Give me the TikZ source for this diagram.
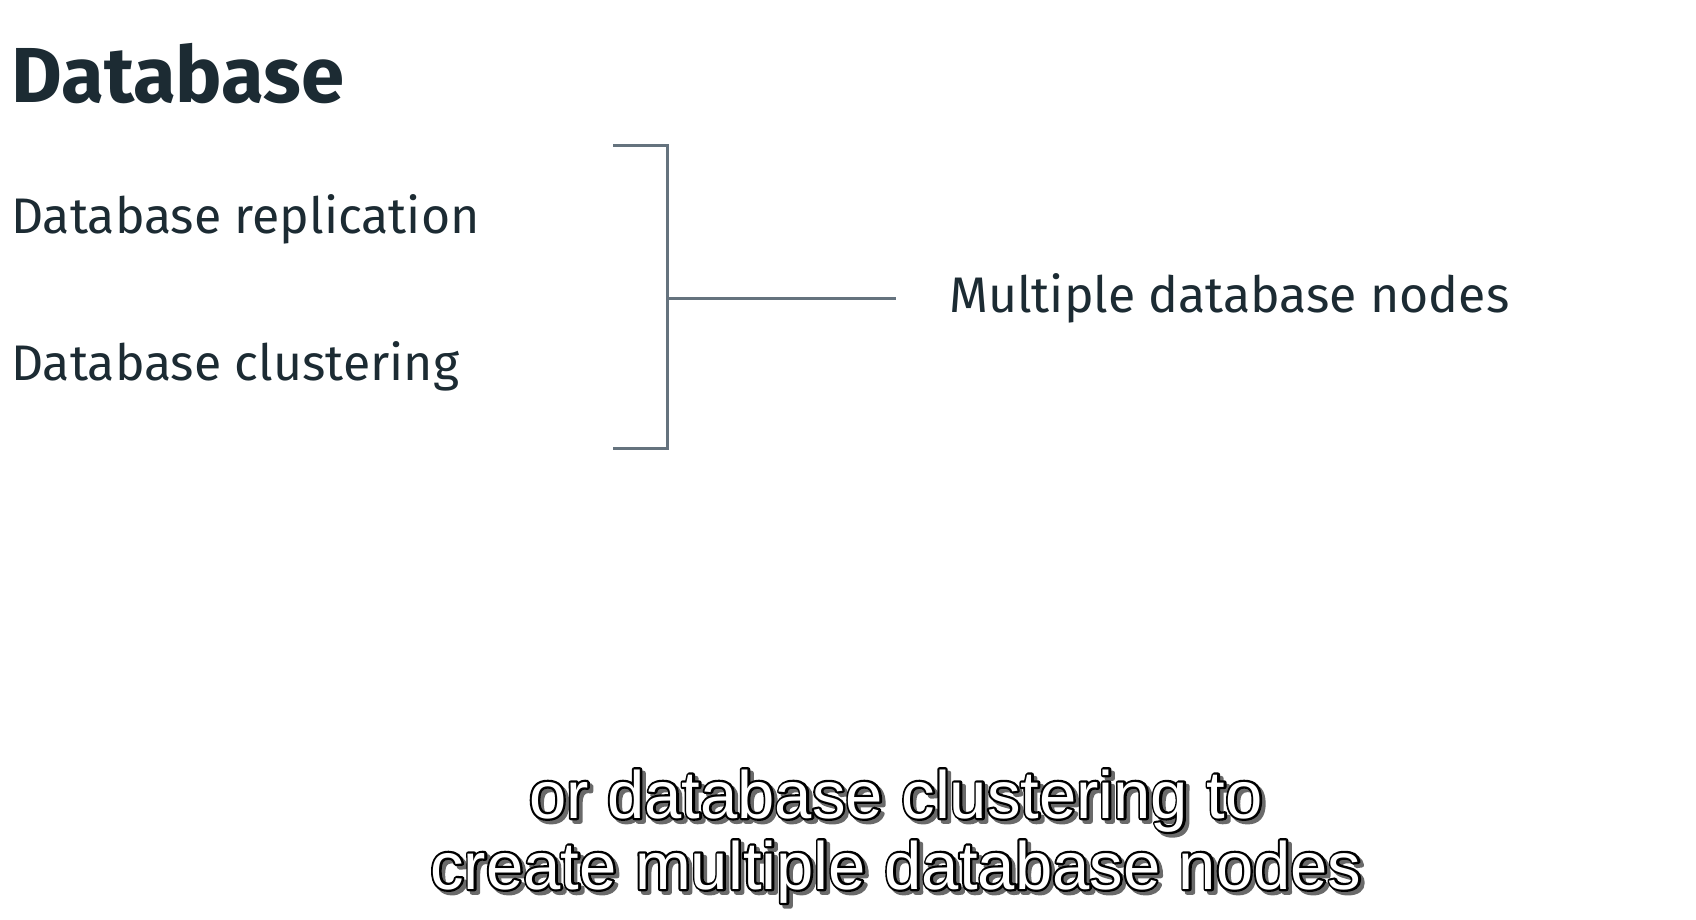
\documentclass[tikz,border=0pt]{standalone}
\usepackage{fontspec}
\setmainfont{Fira Sans}
\newfontfamily\subfont{Liberation Sans}
\usetikzlibrary{calc}
\definecolor{inkdark}{HTML}{1C2B33}
\definecolor{brack}{HTML}{65737E}
\definecolor{shade}{HTML}{6A6A6A}
\newcommand{\outlinedtext}[1]{%
  \rlap{\kern3.5pt\raisebox{-3.5pt}{\color{shade}\special{pdf:literal direct 1 j 2 Tr 4.5 w}#1}}%
  \rlap{\color{black}\special{pdf:literal direct 1 j 2 Tr 4.5 w 0 G}#1}%
  \special{pdf:literal direct 0 Tr}%
  {\color{white}#1}}
\tikzset{
  item/.style={anchor=base west, inner sep=0pt, text=inkdark, font=\fontsize{50}{60}\selectfont},
  ttl/.style={anchor=base west, inner sep=0pt, text=inkdark, font=\fontsize{78}{90}\selectfont\bfseries},
  bline/.style={draw=brack, line width=3pt},
  subbase/.style={anchor=base, inner sep=0pt, font=\fontsize{67}{70}\subfont},
}
\begin{document}
\begin{tikzpicture}[x=1pt,y=-1pt]
  \fill[white] (0,0) rectangle (1696,920);
  \useasboundingbox (0,0) rectangle (1696,920);
  \node[ttl] (title) at (11,103) {Database};
  \node[item] (rep) at (11,233) {Database replication};
  \node[item] (clu) at (11,380) {Database clustering};
  \node[item, anchor=west] (multi) at (949,298) {Multiple database nodes};
  \coordinate (bt) at (613,146);
  \coordinate (bb) at (613,448);
  \coordinate (bm) at (667,298);
  \coordinate (me) at (896,298);
  \draw[bline] (bt) -- (667,146) -- (667,448) -- (bb);
  \draw[bline] (bm) -- (me);
  \node[subbase] (sub1) at (896,818) {\outlinedtext{or database clustering to}};
  \node[subbase] (sub2) at (896,889) {\outlinedtext{create multiple database nodes}};
\end{tikzpicture}
\end{document}
